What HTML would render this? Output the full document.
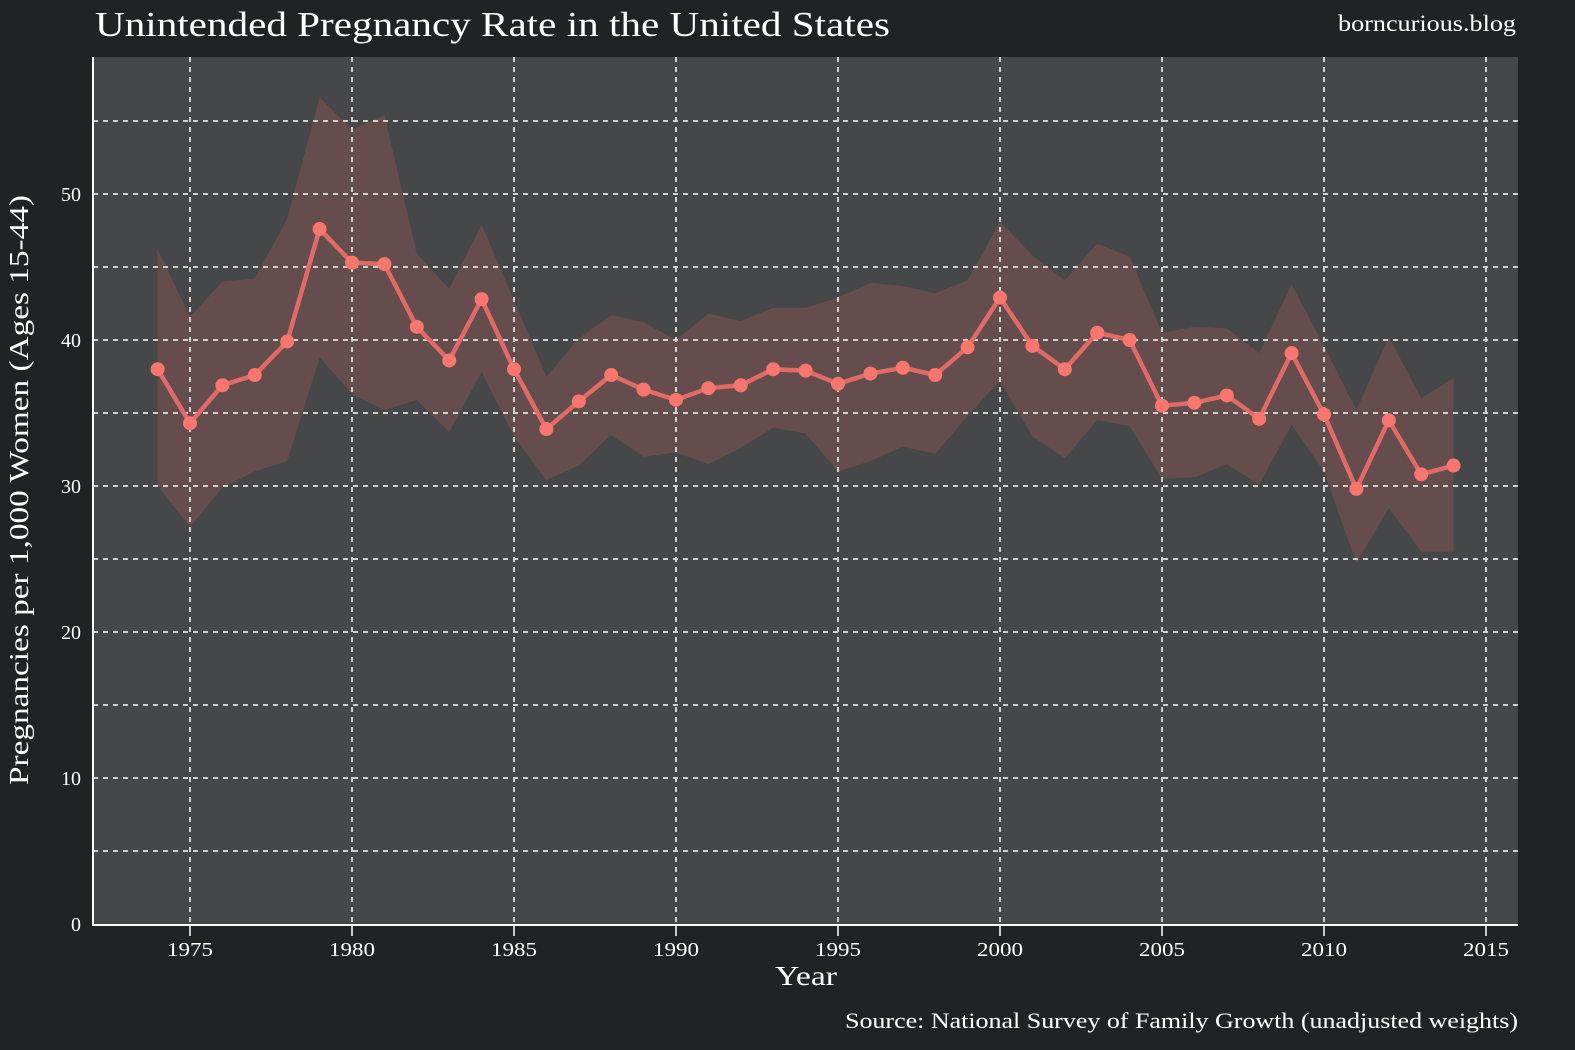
<!DOCTYPE html>
<html><head><meta charset="utf-8">
<style>
html,body{margin:0;padding:0;background:#212224;}
svg{display:block;font-family:"Liberation Serif",serif;}
</style></head>
<body>
<svg id="chart" width="1575" height="1050">
<rect x="0" y="0" width="1575" height="1050" fill="#212224"/>
<rect x="93" y="57" width="1425" height="868" fill="#464748"/>
<g id="band"></g>
<g id="grid"></g>
<g id="series"></g>
<g id="axes"></g>
<text x="95" y="36" font-size="35" fill="#ffffff" textLength="795" lengthAdjust="spacingAndGlyphs">Unintended Pregnancy Rate in the United States</text>
<text x="1338" y="31" font-size="23" fill="#ffffff" textLength="178" lengthAdjust="spacingAndGlyphs">borncurious.blog</text>
<text x="775" y="985" font-size="27" fill="#ffffff" textLength="62" lengthAdjust="spacingAndGlyphs">Year</text>
<text transform="translate(28,785) rotate(-90)" font-size="27" fill="#ffffff" textLength="590" lengthAdjust="spacingAndGlyphs">Pregnancies per 1,000 Women (Ages 15-44)</text>
<text x="845" y="1028" font-size="22" fill="#ffffff" textLength="673" lengthAdjust="spacingAndGlyphs">Source: National Survey of Family Growth (unadjusted weights)</text>
</svg>
<script>
const years=[1974,1975,1976,1977,1978,1979,1980,1981,1982,1983,1984,1985,1986,1987,1988,1989,1990,1991,1992,1993,1994,1995,1996,1997,1998,1999,2000,2001,2002,2003,2004,2005,2006,2007,2008,2009,2010,2011,2012,2013,2014];
const rates=[38.0,34.3,36.9,37.6,39.9,47.6,45.3,45.2,40.9,38.6,42.8,38.0,33.9,35.8,37.6,36.6,35.9,36.7,36.9,38.0,37.9,37.0,37.7,38.1,37.6,39.5,42.9,39.6,38.0,40.5,40.0,35.5,35.7,36.2,34.6,39.1,34.9,29.8,34.5,30.8,31.4];
const upper=[46.2,41.6,44.0,44.2,48.3,56.6,54.4,55.4,45.9,43.5,47.9,42.7,37.5,40.1,41.7,41.2,40.0,41.8,41.3,42.2,42.2,42.9,43.9,43.7,43.2,44.1,48.1,45.8,44.1,46.6,45.7,40.5,40.9,40.8,39.1,43.8,39.6,35.2,40.2,36.0,37.4];
const lower=[30.0,27.2,29.9,31.0,31.7,38.8,36.3,35.2,35.9,33.7,37.8,33.4,30.4,31.4,33.5,32.0,32.3,31.5,32.6,34.0,33.6,31.0,31.7,32.7,32.2,34.8,37.2,33.4,31.9,34.5,34.1,30.5,30.6,31.5,30.1,34.2,31.0,24.7,28.5,25.5,25.5];
const xTicks=[1975,1980,1985,1990,1995,2000,2005,2010,2015];
const yTicks=[0,10,20,30,40,50];
const yMinor=[5,15,25,35,45,55];

const NS="http://www.w3.org/2000/svg";
const X0=93,X1=1518,Y0=57,Y1=925;
function xs(v){return 190+(v-1975)*(1486-190)/40;}
function ys(v){return 924-v*(924-194)/50;}
function mk(tag,attrs,parent){const e=document.createElementNS(NS,tag);for(const k in attrs)e.setAttribute(k,attrs[k]);parent.appendChild(e);return e;}

const band=document.getElementById('band');
let d='M'+years.map((y,i)=>xs(y)+','+ys(upper[i])).join('L');
for(let i=years.length-1;i>=0;i--) d+='L'+xs(years[i])+','+ys(lower[i]);
d+='Z';
const bp=mk('path',{d:d,fill:'#664d4d'},band);



const grid=document.getElementById('grid');
xTicks.forEach(t=>{const l=mk('line',{x1:xs(t),x2:xs(t),y1:Y0,y2:Y1,stroke:'#d0d0d0','stroke-width':2,'stroke-dasharray':'5,5'},grid);

});
yTicks.concat(yMinor).forEach(t=>{if(t===0)return;const l=mk('line',{x1:X0,x2:X1,y1:ys(t),y2:ys(t),stroke:'#d0d0d0','stroke-width':2,'stroke-dasharray':'5,5'},grid);

});

const series=document.getElementById('series');
const pl=mk('polyline',{points:years.map((y,i)=>xs(y)+','+ys(rates[i])).join(' '),fill:'none',stroke:'#e06b66','stroke-width':4.5,'stroke-linejoin':'round'},series);


years.forEach((y,i)=>{const c=mk('circle',{cx:xs(y),cy:ys(rates[i]),r:7,fill:'#f8766d'},series);

});

const axes=document.getElementById('axes');
const ya=mk('line',{x1:X0,x2:X0,y1:Y0,y2:Y1+1,stroke:'#ffffff','stroke-width':2},axes);


const xa=mk('line',{x1:X0-1,x2:X1,y1:Y1,y2:Y1,stroke:'#ffffff','stroke-width':2},axes);


xTicks.forEach(t=>{const tk=mk('line',{x1:xs(t),x2:xs(t),y1:Y1,y2:Y1+11,stroke:'#ffffff','stroke-width':1.5},axes);


const tx=mk('text',{x:xs(t)-23,y:Y1+31,'font-size':20,fill:'#ffffff',textLength:46,lengthAdjust:'spacingAndGlyphs'},axes);tx.textContent=t;

});
yTicks.forEach(t=>{const tx=mk('text',{x:X0-12,y:ys(t)+7,'font-size':20,fill:'#ffffff','text-anchor':'end'},axes);tx.textContent=t;

});
</script>
</body></html>
